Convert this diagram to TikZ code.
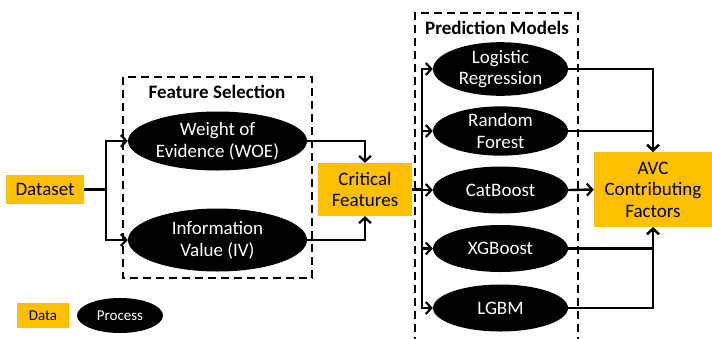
\documentclass[tikz,border=0pt]{standalone}
\usepackage{fontspec}
\setmainfont{Carlito}
\usetikzlibrary{shapes.geometric}
\usetikzlibrary{arrows.meta}
\definecolor{dataorange}{HTML}{FFC000}

\tikzset{
  databox/.style={fill=dataorange, inner sep=0pt, align=center,
    font=\fontsize{19}{21.5}\selectfont},
  proc/.style={ellipse, fill=black, text=white, inner sep=0pt, align=center,
    minimum width=135pt, minimum height=47pt,
    font=\fontsize{19}{21.5}\selectfont},
  flow/.style={line width=2.4pt, -{Straight Barb[length=5.5pt,width=12pt,line width=2.2pt]}},
  group/.style={line width=2.4pt, dash pattern=on 8pt off 5pt},
  grouptitle/.style={font=\fontsize{19}{21.5}\selectfont\bfseries}
}

\begin{document}
\begin{tikzpicture}[x=1pt,y=-1pt]
    \useasboundingbox (0,0) rectangle (712,338);
    % dashed groups
    \draw[group] (123,77) rectangle (312,278);
    \node[grouptitle] (fstitle) at (217,92) {Feature Selection};
    \draw[group] (415,345) -- (415,13) -- (578,13) -- (578,345);
    \node[grouptitle] (pmtitle) at (497,28) {Prediction Models};

    % data
    \node[databox, minimum width=78pt, minimum height=29pt] (dataset) at (45,189.5) {Dataset};
    \node[databox, minimum width=94pt, minimum height=53pt] (crit) at (365,189.5) {Critical\\Features};
    \node[databox, minimum width=118pt, minimum height=75pt] (avc) at (653,189.5) {AVC\\Contributing\\Factors};

    % feature selection
    \node[proc, minimum width=179pt, minimum height=59pt] (woe) at (217.5,141) {Weight of\\Evidence (WOE)};
    \node[proc, minimum width=179pt, minimum height=63pt] (iv) at (217.5,240) {Information\\Value (IV)};

    % models
    \node[proc] (logreg) at (500.5,69) {Logistic\\Regression};
    \node[proc] (forest) at (500.5,131) {Random\\Forest};
    \node[proc] (catb) at (500.5,190) {CatBoost};
    \node[proc] (xgb) at (500.5,248.5) {XGBoost};
    \node[proc] (lgbm) at (500.5,308) {LGBM};

    % legend
    \node[databox, minimum width=52pt, minimum height=25pt,
      font=\fontsize{15}{17}\selectfont] (legdata) at (43,315.5) {Data};
    \node[proc, minimum width=86pt, minimum height=35pt,
      font=\fontsize{15}{17}\selectfont] (legproc) at (120,315.5) {Process};

    % dataset into both selectors
    \draw[flow] (dataset.east) -- ++(22,0) |- (woe.west);
    \draw[flow] (dataset.east) -- ++(22,0) |- (iv.west);
    \draw[flow] (woe.east) -| (crit.north);
    \draw[flow] (iv.east) -| (crit.south);

    % critical features into every model
    \foreach \m in {logreg,forest,catb,xgb,lgbm}
      \draw[flow] (crit.east) -- ++(10,0) |- (\m.west);

    % models into the factors
    \draw[flow] (logreg.east) -| (avc.north);
    \draw[flow] (forest.east) -| (avc.north);
    \draw[flow] (catb.east) -- (avc.west);
    \draw[flow] (xgb.east) -| (avc.south);
    \draw[flow] (lgbm.east) -| (avc.south);
\end{tikzpicture}
\end{document}
